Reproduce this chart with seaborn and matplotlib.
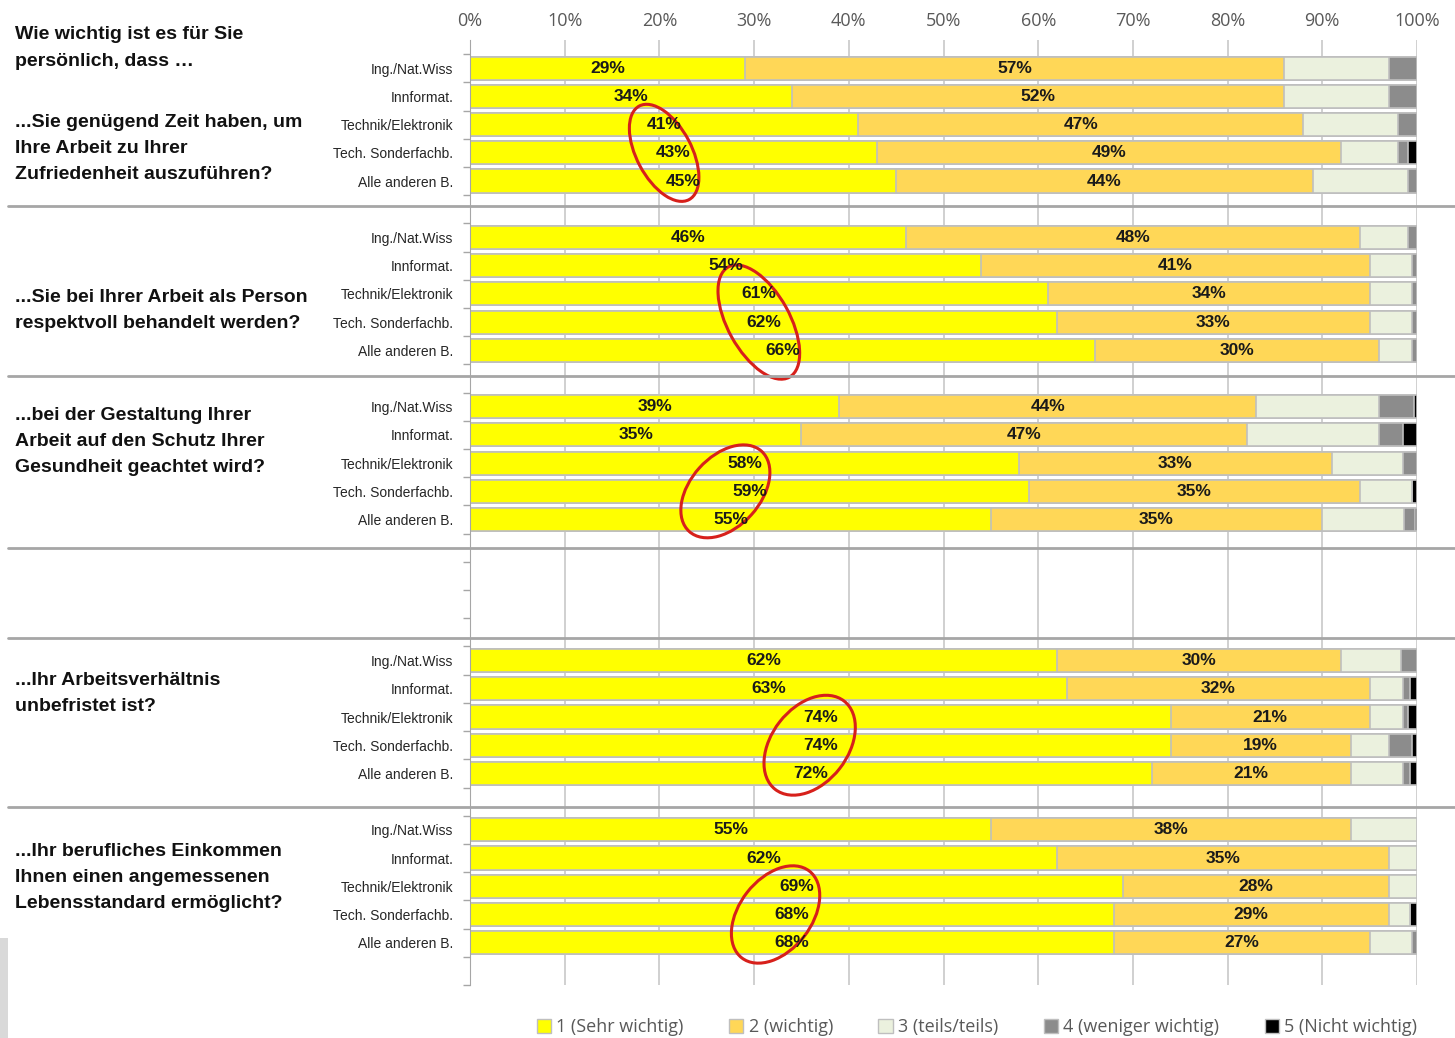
import numpy as np
import pandas as pd
import matplotlib.pyplot as plt
import matplotlib.transforms as mtransforms
import seaborn as sns
from matplotlib.patches import Patch, Ellipse, Rectangle
from matplotlib.lines import Line2D

questions = [
    "...Sie genügend Zeit haben, um\nIhre Arbeit zu Ihrer\nZufriedenheit auszuführen?",
    "...Sie bei Ihrer Arbeit als Person\nrespektvoll behandelt werden?",
    "...bei der Gestaltung Ihrer\nArbeit auf den Schutz Ihrer\nGesundheit geachtet wird?",
    "...Ihr Arbeitsverhältnis\nunbefristet ist?",
    "...Ihr berufliches Einkommen\nIhnen einen angemessenen\nLebensstandard ermöglicht?",
]
branchen = ["Ing./Nat.Wiss", "Innformat.", "Technik/Elektronik", "Tech. Sonderfachb.", "Alle anderen B."]
levels = ["1 (Sehr wichtig)", "2 (wichtig)", "3 (teils/teils)", "4 (weniger wichtig)", "5 (Nicht wichtig)"]
colors = ["#FFFF00", "#FFD757", "#EBF1DE", "#8C8C8C", "#000000"]

# one row per question, one value per Branche (percent)
sehr_wichtig = [[29, 34, 41, 43, 45], [46, 54, 61, 62, 66], [39, 35, 58, 59, 55],
                [62, 63, 74, 74, 72], [55, 62, 69, 68, 68]]
wichtig = [[57, 52, 47, 49, 44], [48, 41, 34, 33, 30], [44, 47, 33, 35, 35],
           [30, 32, 21, 19, 21], [38, 35, 28, 29, 27]]
teils = [[11, 11, 10, 6, 10], [5, 4.5, 4.5, 4.5, 3.5], [13, 14, 7.5, 5.5, 8.6],
         [6.3, 3.5, 3.5, 4, 5.5], [7, 3, 3, 2.3, 4.5]]
weniger = [[3, 3, 2, 1, 1], [1, 0.5, 0.5, 0.5, 0.5], [3.7, 2.5, 1.5, 0, 1.2],
           [1.7, 0.8, 0.5, 2.5, 0.8], [0, 0, 0, 0, 0.5]]
nicht = [[0, 0, 0, 1, 0], [0, 0, 0, 0, 0], [0.3, 1.5, 0, 0.5, 0.2],
         [0, 0.7, 1, 0.5, 0.7], [0, 0, 0, 0.7, 0]]

# layout: row slot where each question block starts (empty block between Q3 and Q4)
group_base = [0, 6, 12, 21, 27]
text_offset = [2.84, 2.58, 1.23, 1.16, 1.69]
separators = [4.9, 10.9, 17.0, 20.2, 26.2]
# red ellipse annotations: (dx in %, width px, height px, angle)
ellipses = [(-1.0, 106, 55, -62), (-1.0, 126, 62, -61), (-1.7, 108, 70, 48),
            (-0.8, 112, 76, 52), (-1.9, 110, 72, 52)]

rows = []
series = [sehr_wichtig, wichtig, teils, weniger, nicht]
for qi in range(len(questions)):
    for bi, b in enumerate(branchen):
        start = 0
        for li, lev in enumerate(levels):
            v = series[li][qi][bi]
            rows.append(dict(q=qi, branche=b, pos=group_base[qi] + bi, level=lev,
                             value=v, start=start, end=start + v))
            start += v
df = pd.DataFrame(rows)

sns.set_style("white")
plt.rcParams['font.family'] = ['Liberation Sans', 'DejaVu Sans']

fig = plt.figure(figsize=(14.55, 10.38), dpi=100)
ax = fig.add_axes([470 / 1455, 1 - 985 / 1038, (1417 - 470) / 1455, (985 - 40) / 1038])

# stacked bars: draw cumulative ends from the last level backwards
for li in range(len(levels) - 1, -1, -1):
    sub = df[df['level'] == levels[li]]
    sns.barplot(data=sub, x='end', y='pos', orient='y', native_scale=True,
                color=colors[li], saturation=1, width=0.82, errorbar=None,
                edgecolor='#BFBFBF', linewidth=1.2, ax=ax)

# value labels for the first two levels
for li in range(2):
    sub = df[df['level'] == levels[li]]
    for _, r in sub.iterrows():
        ax.text(r['start'] + r['value'] / 2, r['pos'], f"{r['value']:.0f}%",
                ha='center', va='center', fontsize=12.5, fontweight='bold', color='#1a1a1a')

ax.set_xlim(0, 100)
ax.set_ylim(32.5, -1.0)
ax.set_xticks(np.arange(0, 101, 10))
ax.set_xticklabels([f"{t}%" for t in range(0, 101, 10)])
ax.xaxis.tick_top()
ax.tick_params(axis='x', length=0, labelsize=13, colors='#595959', pad=7)
for lab in ax.get_xticklabels():
    lab.set_family(['Open Sans', 'DejaVu Sans'])

ax.set_yticks(df['pos'].unique())
ax.set_yticklabels(branchen * len(questions))
ax.set_yticks(np.arange(-0.5, 33, 1), minor=True)
ax.tick_params(axis='y', which='major', length=0, labelsize=10, colors='#262626', pad=12)
ax.tick_params(axis='y', which='minor', length=5, width=1, color='#A6A6A6', left=True)
ax.set_xlabel('')
ax.set_ylabel('')

ax.grid(axis='x', color='#C8C8C8', linewidth=1.2)
ax.set_axisbelow(True)
for s in ['top', 'right', 'bottom']:
    ax.spines[s].set_visible(False)
ax.spines['left'].set_color('#A6A6A6')

# separators across the whole figure
trans = mtransforms.blended_transform_factory(fig.transFigure, ax.transData)
for y in separators:
    fig.add_artist(Line2D([8 / 1455, 1], [y, y], transform=trans, color='#A6A6A6', lw=2))

# question texts
fig.text(15 / 1455, 1 - 48 / 1038, "Wie wichtig ist es für Sie\npersönlich, dass …",
         ha='left', va='center', fontsize=14, fontweight='bold', linespacing=1.7, color='#111111')
for qi, q in enumerate(questions):
    fig.text(15 / 1455, group_base[qi] + text_offset[qi], q, transform=trans,
             ha='left', va='center', fontsize=14, fontweight='bold',
             linespacing=1.7, color='#111111')

# red ellipses around labels of the last three Branchen
for qi, (dx, w, h, ang) in enumerate(ellipses):
    labx = [sehr_wichtig[qi][bi] / 2 for bi in range(2, 5)]
    cx = np.mean(labx) + dx
    cy = group_base[qi] + 3
    tr = fig.dpi_scale_trans + mtransforms.ScaledTranslation(cx, cy, ax.transData)
    ax.add_artist(Ellipse((0, 0), w / 100, h / 100, angle=ang, transform=tr,
                          fill=False, edgecolor='#D7201B', lw=2.2, clip_on=False))

fig.add_artist(Rectangle((0, 0), 8 / 1455, 100 / 1038, transform=fig.transFigure,
                         color='#D9D9D9', lw=0))

handles = [Patch(facecolor=c, edgecolor='#BFBFBF', label=l) for c, l in zip(colors, levels)]
leg = fig.legend(handles=handles, loc='center', bbox_to_anchor=(977 / 1455, 11 / 1038),
                 ncol=5, frameon=False, handlelength=0.8, handleheight=0.8,
                 handletextpad=0.3, columnspacing=2.5,
                 prop={'family': ['Open Sans', 'DejaVu Sans'], 'size': 13})
for t in leg.get_texts():
    t.set_color('#595959')

fig.savefig('out.png', dpi=100)
